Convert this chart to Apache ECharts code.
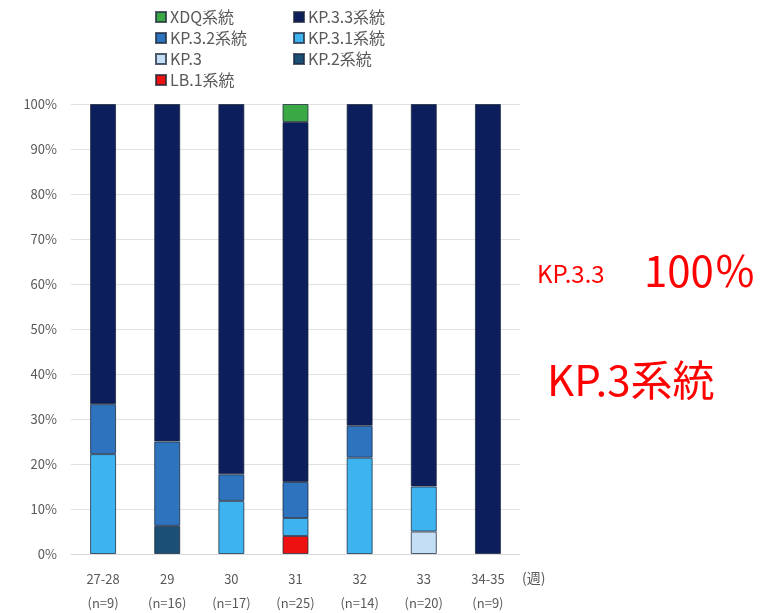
<!DOCTYPE html>
<html>
<head>
<meta charset="utf-8">
<script src="https://cdn.jsdelivr.net/npm/echarts@6/dist/echarts.min.js"></script>
<style>
  html, body { margin: 0; padding: 0; background: #fff; }
  #chart { width: 775px; height: 613px; }
</style>
</head>
<body>
<div id="chart"></div>
<script>
// Week groups and sample sizes
const weeks = ['27-28', '29', '30', '31', '32', '33', '34-35'];
const sampleSizes = [9, 16, 17, 25, 14, 20, 9];

// Share of each lineage per week (%), stacked bottom to top
const lb1   = [0, 0, 0, 4, 0, 0, 0];
const kp2   = [0, 6.25, 0, 0, 0, 0, 0];
const kp3   = [0, 0, 0, 0, 0, 5, 0];
const kp31  = [22.2, 0, 11.8, 4, 21.4, 10, 0];
const kp32  = [11.1, 18.75, 5.9, 8, 7.1, 0, 0];
const kp33  = [66.7, 75, 82.3, 80, 71.5, 85, 100];
const xdq   = [0, 0, 0, 4, 0, 0, 0];

// Y axis ticks
const yTicks = [0, 10, 20, 30, 40, 50, 60, 70, 80, 90, 100];

const FONT = '"Noto Sans CJK JP", "Noto Sans", sans-serif';
const GREY = '#595959';

const seriesDefs = [
  { name: 'LB.1系統',  data: lb1,  color: '#ee1111' },
  { name: 'KP.2系統',  data: kp2,  color: '#1b4f74' },
  { name: 'KP.3',      data: kp3,  color: '#c4def5' },
  { name: 'KP.3.1系統', data: kp31, color: '#3db4f0' },
  { name: 'KP.3.2系統', data: kp32, color: '#2e73bd' },
  { name: 'KP.3.3系統', data: kp33, color: '#0c1f5c' },
  { name: 'XDQ系統',   data: xdq,  color: '#3aa845' }
];

const chart = echarts.init(document.getElementById('chart'), null, { renderer: 'canvas' });

const legendCommon = {
  orient: 'vertical',
  top: 4,
  itemWidth: 10,
  itemHeight: 10,
  itemGap: 5,
  icon: 'rect',
  textStyle: { color: GREY, fontSize: 16, fontFamily: FONT, padding: [0, 0, 0, -1] },
  selectedMode: false
};

chart.setOption({
  animation: false,
  backgroundColor: '#ffffff',
  textStyle: { fontFamily: FONT },
  legend: [
    Object.assign({ left: 150, data: ['XDQ系統', 'KP.3.2系統', 'KP.3', 'LB.1系統'] }, legendCommon),
    Object.assign({ left: 288, data: ['KP.3.3系統', 'KP.3.1系統', 'KP.2系統'] }, legendCommon)
  ],
  grid: { left: 71, right: 255, top: 104, bottom: 59, containLabel: false, outerBoundsMode: 'none' },
  xAxis: {
    type: 'category',
    data: weeks,
    axisLine: { show: true, lineStyle: { color: '#d9d9d9' } },
    axisTick: { show: false },
    axisLabel: {
      color: GREY,
      fontSize: 13,
      fontFamily: FONT,
      lineHeight: 24,
      margin: 13,
      formatter: (v, i) => v + '\n(n=' + sampleSizes[i] + ')'
    }
  },
  yAxis: {
    type: 'value',
    min: yTicks[0],
    max: yTicks[yTicks.length - 1],
    interval: yTicks[1] - yTicks[0],
    axisLine: { show: false },
    axisTick: { show: false },
    splitLine: { lineStyle: { color: '#e2e2e2' } },
    axisLabel: { color: GREY, fontSize: 13, fontFamily: FONT, margin: 14, formatter: '{value}%' }
  },
  series: seriesDefs.map(s => ({
    name: s.name,
    type: 'bar',
    stack: 'share',
    barWidth: 26,
    // empty shares are left out so they draw no sliver
    data: s.data.map(v => (v === 0 ? null : v)),
    itemStyle: { color: s.color, borderColor: 'rgba(30,40,60,0.75)', borderWidth: 1 }
  })),
  graphic: [
    { type: 'text', left: 522, top: 571, style: { text: '(週)', fill: GREY, font: '14px ' + FONT } },
    { type: 'text', left: 537, top: 262, style: { text: 'KP.3.3', fill: '#ff0000', font: '24px ' + FONT } },
    { type: 'text', left: 644, top: 250, style: { text: '100％', fill: '#ff0000', font: '42px ' + FONT } },
    { type: 'text', left: 547, top: 359, style: { text: 'KP.3系統', fill: '#ff0000', font: '42px ' + FONT } }
  ]
});
</script>
</body>
</html>
